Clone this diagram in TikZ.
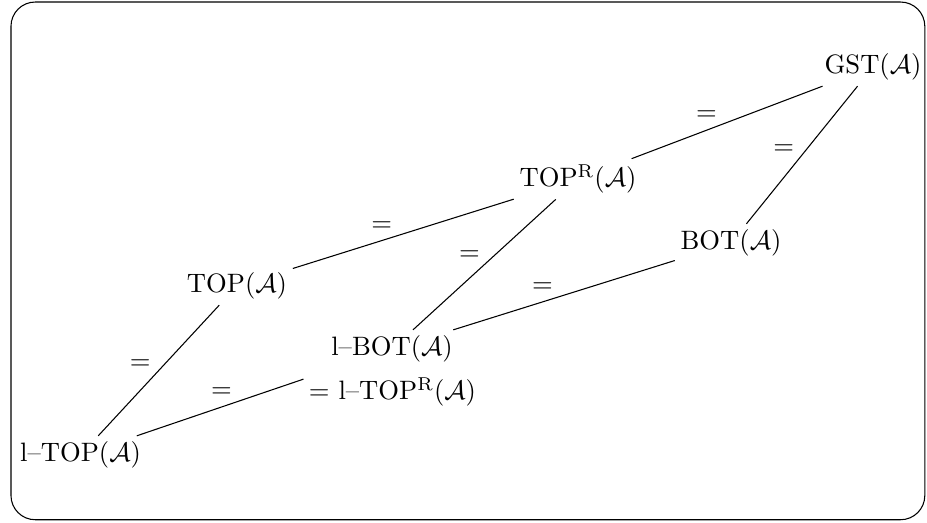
\documentclass[tikz,border=0pt]{standalone}
\usepackage{amsmath}
\usepackage{amssymb}
\begin{document}
\begin{tikzpicture}[every node/.style={inner sep=2pt},eq/.style={pos=0.47,above left,inner sep=1.5pt}]
		\useasboundingbox (0,0) rectangle (12.239,6.892);
		\draw[rounded corners=0.32cm] (0.145,0.03) rectangle (12.21,6.865);
		\node (GST) at (11.526,6.007) {GST$(\mathcal{A})$};
		\node (TOPR) at (7.631,4.528) {TOP$^{\mathrm{R}}(\mathcal{A})$};
		\node (BOT) at (9.651,3.684) {BOT$(\mathcal{A})$};
		\node (TOP) at (3.129,3.116) {TOP$(\mathcal{A})$};
		\node (LBOT) at (5.176,2.284) {l--BOT$(\mathcal{A})$};
		\node (LTOPR) at (5.182,1.716) {$=$ l--TOP$^{\mathrm{R}}(\mathcal{A})$};
		\node (LTOP) at (1.063,0.885) {l--TOP$(\mathcal{A})$};
		\draw (TOPR) -- node[eq] {$=$} (GST);
		\draw (BOT) -- node[eq] {$=$} (GST);
		\draw (TOP) -- node[eq] {$=$} (TOPR);
		\draw (LBOT) -- node[eq,pos=0.5] {$=$} (TOPR);
		\draw (LBOT) -- node[eq] {$=$} (BOT);
		\draw (LTOP) -- node[eq] {$=$} (TOP);
		\draw[shorten >=0.45cm] (LTOP) -- node[eq,pos=0.5] {$=$} (LBOT);
	\end{tikzpicture}
\end{document}
